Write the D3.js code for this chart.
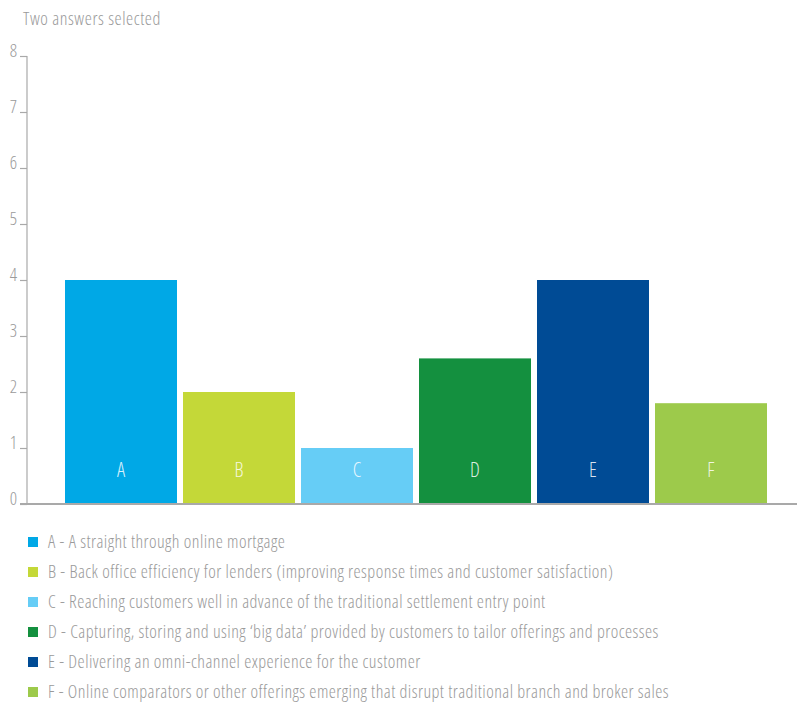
<!DOCTYPE html>
<html>
<head>
<meta charset="utf-8">
<script src="https://cdn.jsdelivr.net/npm/d3@7"></script>
<style>
  html, body { margin: 0; padding: 0; background: #fff; }
  svg text { font-family: "Open Sans", "Liberation Sans Narrow", sans-serif; font-weight: 300; font-stretch: 75%; }
</style>
</head>
<body>
<svg id="chart" width="797" height="702"></svg>
<script>
const categories = ["A", "B", "C", "D", "E", "F"];
const values = [4, 2, 1, 2.6, 4, 1.8];
const colors = ["#00a8e6", "#c4d838", "#66cdf6", "#14903f", "#004b95", "#9dca4b"];
const legendLabels = [
  "A - A straight through online mortgage",
  "B - Back office efficiency for lenders (improving response times and customer satisfaction)",
  "C - Reaching customers well in advance of the traditional settlement entry point",
  "D - Capturing, storing and using \u2018big data\u2019 provided by customers to tailor offerings and processes",
  "E - Delivering an omni-channel experience for the customer",
  "F - Online comparators or other offerings emerging that disrupt traditional branch and broker sales"
];
const yTicks = [0, 1, 2, 3, 4, 5, 6, 7, 8];
const title = "Two answers selected";

const svg = d3.select("#chart");
const axisColor = "#a9a9a9";
const textColor = "#9a9a9a";

const x = d3.scaleBand().domain(categories).range([62, 770]).paddingInner(6 / 118).paddingOuter(3 / 118);
const y = d3.scaleLinear().domain([0, 8]).range([504, 56]);

// title
svg.append("text").attr("x", 23).attr("y", 25).attr("fill", textColor)
  .style("font-size", "18px").style("letter-spacing", "0.55px").text(title);

// bars
svg.append("g").selectAll("rect").data(categories).join("rect")
  .attr("x", d => x(d)).attr("width", x.bandwidth())
  .attr("y", (d, i) => y(values[i])).attr("height", (d, i) => y(0) - y(values[i]))
  .attr("fill", (d, i) => colors[i]);

// bar letters
svg.append("g").selectAll("text").data(categories).join("text")
  .attr("x", d => x(d) + x.bandwidth() / 2).attr("y", 477)
  .attr("text-anchor", "middle").attr("fill", "#fff").attr("fill-opacity", 0.85)
  .style("font-size", "20px").text(d => d);

// y axis
const yAxis = d3.axisLeft(y).tickValues(yTicks).tickSize(7).tickPadding(3).tickFormat(d3.format("d"));
const gy = svg.append("g").attr("transform", "translate(27,0)").call(yAxis);
gy.select(".domain").remove();
gy.selectAll(".tick line").attr("stroke", axisColor).attr("stroke-width", 1.2);
gy.selectAll(".tick text").attr("fill", textColor).attr("dy", 0).style("font-size", "18px");
svg.append("line").attr("x1", 27).attr("x2", 27).attr("y1", y(8)).attr("y2", y(0))
  .attr("stroke", axisColor).attr("stroke-width", 1.2);
// baseline
svg.append("line").attr("x1", 20).attr("x2", 797).attr("y1", y(0)).attr("y2", y(0))
  .attr("stroke", axisColor).attr("stroke-width", 2);

// legend
const lg = svg.append("g").attr("transform", "translate(28,537)");
const rows = lg.selectAll("g").data(legendLabels).join("g")
  .attr("transform", (d, i) => `translate(0,${i * 30})`);
rows.append("rect").attr("width", 10).attr("height", 10).attr("fill", (d, i) => colors[i]);
rows.append("text").attr("x", 20).attr("y", 11).attr("fill", textColor)
  .style("font-size", "18px").style("letter-spacing", "0.45px").text(d => d);
</script>
</body>
</html>
